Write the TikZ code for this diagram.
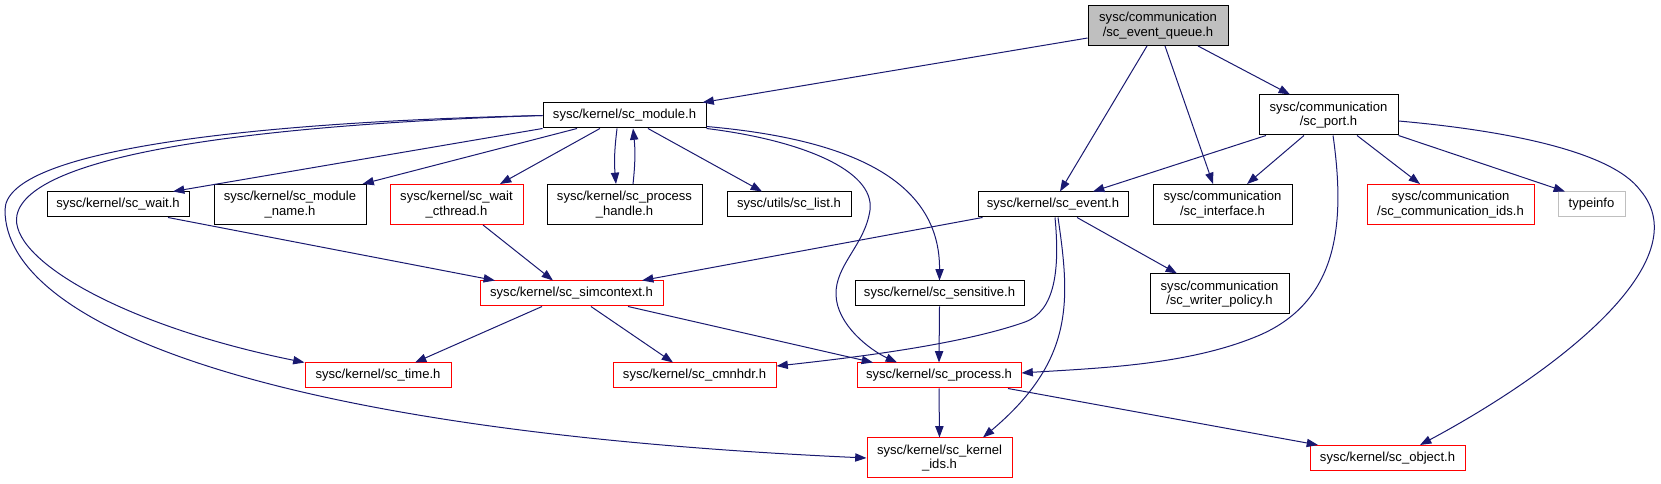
\documentclass[tikz,border=0pt]{standalone}
\usepackage{fontspec}
\setmainfont{Liberation Sans}
\usetikzlibrary{arrows.meta}

\definecolor{edgeblue}{HTML}{191970}
\definecolor{boxgray}{HTML}{BFBFBF}

\tikzset{
  file/.style={draw=black, line width=0.75pt, inner sep=0pt, align=center,
    minimum height=18.75pt, font=\fontsize{9.8}{10.8}\selectfont},
  twoline/.style={minimum height=30pt},
  trunc/.style={file, draw=red},
  dep/.style={-{Triangle[length=8.5pt,width=6.2pt]}, draw=edgeblue, line width=0.75pt}
}

\begin{document}
\begin{tikzpicture}[x=0.75pt, y=-0.75pt]
  \useasboundingbox (0,0) rectangle (1661,484);
  % top file
  \node[file, twoline, fill=boxgray, minimum width=105pt] (eq) at (1158,25.5) {sysc/communication\\/sc\_event\_queue.h};
  % first row
  \node[file, minimum width=122.25pt] (module) at (624.5,115.5) {sysc/kernel/sc\_module.h};
  \node[file, twoline, minimum width=104.25pt] (port) at (1328.5,115) {sysc/communication\\/sc\_port.h};
  % second row
  \node[file, minimum width=106.5pt] (wait) at (118,204.5) {sysc/kernel/sc\_wait.h};
  \node[file, twoline, minimum width=114pt] (mname) at (290,204.5) {sysc/kernel/sc\_module\\\_name.h};
  \node[trunc, twoline, minimum width=99.75pt] (wcth) at (456.5,204.5) {sysc/kernel/sc\_wait\\\_cthread.h};
  \node[file, twoline, minimum width=116.25pt] (phandle) at (624.5,204.5) {sysc/kernel/sc\_process\\\_handle.h};
  \node[file, minimum width=93pt] (list) at (789,204.5) {sysc/utils/sc\_list.h};
  \node[file, minimum width=112.5pt] (event) at (1053,204.5) {sysc/kernel/sc\_event.h};
  \node[file, twoline, minimum width=104.25pt] (iface) at (1222.5,204.5) {sysc/communication\\/sc\_interface.h};
  \node[trunc, twoline, minimum width=125.25pt] (commids) at (1450.5,204.5) {sysc/communication\\/sc\_communication\_ids.h};
  \node[file, draw=boxgray, minimum width=50.25pt] (typeinfo) at (1591.5,204.5) {typeinfo};
  % third row
  \node[trunc, minimum width=137.25pt] (simctx) at (571.5,293.5) {sysc/kernel/sc\_simcontext.h};
  \node[file, minimum width=126.75pt] (sens) at (939.5,293.5) {sysc/kernel/sc\_sensitive.h};
  \node[file, twoline, minimum width=104.25pt] (writer) at (1219.5,294) {sysc/communication\\/sc\_writer\_policy.h};
  % fourth row
  \node[trunc, minimum width=109.5pt] (time) at (378,375.5) {sysc/kernel/sc\_time.h};
  \node[trunc, minimum width=122.25pt] (cmnhdr) at (694.5,375.5) {sysc/kernel/sc\_cmnhdr.h};
  \node[trunc, minimum width=123pt] (process) at (939,375.5) {sysc/kernel/sc\_process.h};
  % bottom row
  \node[trunc, twoline, minimum width=108.75pt] (kids) at (939.5,458) {sysc/kernel/sc\_kernel\\\_ids.h};
  \node[trunc, minimum width=116.25pt] (object) at (1387.5,458) {sysc/kernel/sc\_object.h};

  % from sc_event_queue.h
  \draw[dep] ([yshift=-9.4pt]eq.west) -- ([xshift=-3pt]module.north east);
  \draw[dep] ([xshift=-8.25pt]eq.south) -- ([xshift=5.25pt]event.north);
  \draw[dep] ([xshift=5.25pt]eq.south) -- ([xshift=-7.1pt]iface.north);
  \draw[dep] ([xshift=30pt]eq.south) -- ([xshift=-28.9pt]port.north);
  % from sc_module.h
  \draw[dep] (module.south west) -- ([xshift=41.25pt]wait.north);
  \draw[dep] ([xshift=-35.6pt]module.south) -- ([xshift=-3pt]mname.north east);
  \draw[dep] ([xshift=-18.4pt]module.south) -- ([xshift=32.6pt]wcth.north);
  \draw[dep] ([xshift=-5.6pt]module.south) to[bend right=6] ([xshift=-6.4pt]phandle.north);
  \draw[dep] ([xshift=6.4pt]phandle.north) to[bend right=6] ([xshift=6.4pt]module.south);
  \draw[dep] ([xshift=17.6pt]module.south) -- ([xshift=-20.25pt]list.north);
  \draw[dep] (module.west) .. controls (250,125) and (30,155) .. (17,215)
    .. controls (8,258) and (120,325) .. (time.north west);
  \draw[dep] (module.west) .. controls (250,122) and (5,150) .. (5,210)
    .. controls (5,320) and (250,430) .. (kids.west);
  \draw[dep] (module.south east) .. controls (800,140) and (875,170) .. (870,210)
    .. controls (865,245) and (835,265) .. (836,295)
    .. controls (837,325) and (870,350) .. ([xshift=-31.5pt]process.north);
  \draw[dep] ([yshift=1.5pt]module.south east) .. controls (860,140) and (940,185) .. (sens.north);
  % into sc_simcontext.h
  \draw[dep] ([xshift=37.5pt]wait.south) -- ([xshift=-57.4pt]simctx.north);
  \draw[dep] ([xshift=19.9pt]wcth.south) -- ([xshift=-13.9pt]simctx.north);
  \draw[dep] ([xshift=3.75pt]event.south west) -- ([xshift=52.9pt]simctx.north);
  % from sc_simcontext.h
  \draw[dep] ([xshift=-22.1pt]simctx.south) -- ([xshift=27.75pt]time.north);
  \draw[dep] ([xshift=14.6pt]simctx.south) -- ([xshift=-16.1pt]cmnhdr.north);
  \draw[dep] ([xshift=42.4pt]simctx.south) -- ([xshift=-49.5pt]process.north);
  % from sc_event.h
  \draw[dep] ([xshift=1.5pt]event.south) .. controls (1060,270) and (1055,311) .. (1025,322)
    .. controls (960,345) and (850,358) .. ([yshift=7.1pt]cmnhdr.east);
  \draw[dep] ([xshift=3.75pt]event.south) .. controls (1070,300) and (1075,360) .. ([xshift=32.6pt]kids.north);
  \draw[dep] ([xshift=18pt]event.south) -- ([xshift=-31.9pt]writer.north);
  % sc_sensitive.h and sc_process.h
  \draw[dep] (sens.south) -- (process.north);
  \draw[dep] (process.south) -- (kids.north);
  \draw[dep] ([xshift=51.75pt]process.south) -- ([xshift=-52.1pt]object.north);
  % from sc_port.h
  \draw[dep] ([xshift=-46.9pt]port.south) -- ([xshift=30pt]event.north);
  \draw[dep] ([xshift=-18.4pt]port.south) -- ([xshift=18.4pt]iface.north);
  \draw[dep] ([xshift=3.4pt]port.south) .. controls (1345,220) and (1340,300) .. (1260,335)
    .. controls (1190,365) and (1100,368) .. ([yshift=1.9pt]process.east);
  \draw[dep] ([xshift=21.4pt]port.south) -- ([xshift=-22.9pt]commids.north);
  \draw[dep] (port.south east) -- ([xshift=-19.9pt]typeinfo.north);
  \draw[dep] ([yshift=-4.5pt]port.east) .. controls (1500,130) and (1610,150) .. (1640,190)
    .. controls (1700,260) and (1560,370) .. ([xshift=24.4pt]object.north);
\end{tikzpicture}
\end{document}
